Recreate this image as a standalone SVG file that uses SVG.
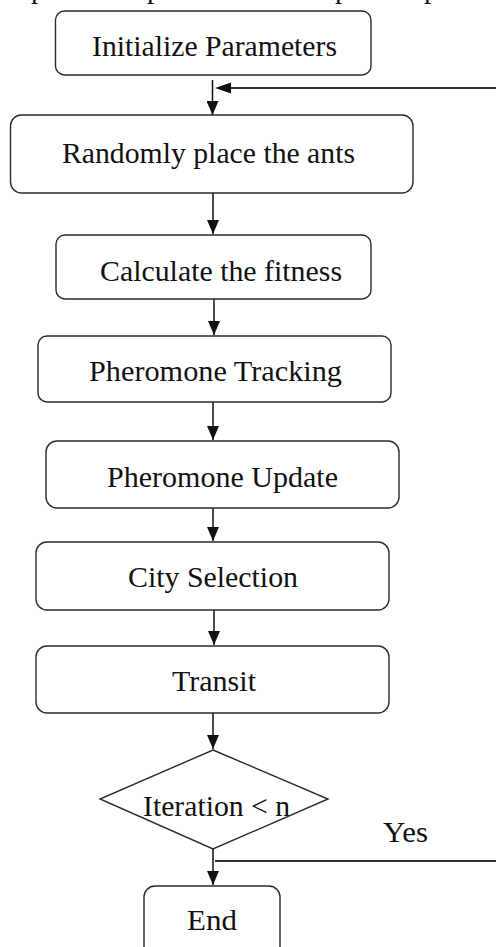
<svg xmlns="http://www.w3.org/2000/svg" width="496" height="947" viewBox="0 0 496 947">
<style>
.box{fill:#fff;stroke:#2a2a2a;stroke-width:1.4}
.lbl{font-family:"Liberation Serif","Times New Roman",serif;font-size:28.5px;fill:#111;text-anchor:middle}
.frag{font-family:"Liberation Serif","Times New Roman",serif;font-size:29px;fill:#111}
.conn{fill:none;stroke:#111;stroke-width:1.5}
.loop{fill:none;stroke:#333;stroke-width:2}
</style>
<defs>
<marker id="ah" markerUnits="userSpaceOnUse" markerWidth="14" markerHeight="12" refX="14" refY="6" orient="auto" viewBox="0 0 14 12">
<path d="M0,0 L14,6 L0,12 Z" fill="#111"/>
</marker>
</defs>
<text class="frag" y="-2.5"><tspan x="31">p</tspan><tspan x="147">p</tspan><tspan x="335">p</tspan><tspan x="424">p</tspan></text>
<g id="connectors">
<line class="conn" x1="212.5" y1="80" x2="212.5" y2="115" marker-end="url(#ah)"/>
<line class="loop" x1="496" y1="88" x2="230" y2="88"/>
<path d="M215,88 L231,82.5 L231,93.5 Z" fill="#111"/>
<line class="conn" x1="213" y1="193" x2="213" y2="234" marker-end="url(#ah)"/>
<line class="conn" x1="214" y1="299" x2="214" y2="335" marker-end="url(#ah)"/>
<line class="conn" x1="213" y1="402" x2="213" y2="440" marker-end="url(#ah)"/>
<line class="conn" x1="213" y1="508" x2="213" y2="541" marker-end="url(#ah)"/>
<line class="conn" x1="214" y1="610" x2="214" y2="645" marker-end="url(#ah)"/>
<line class="conn" x1="213" y1="713" x2="213" y2="749" marker-end="url(#ah)"/>
<line class="conn" x1="213" y1="849" x2="213" y2="885" marker-end="url(#ah)"/>
<line class="loop" x1="215" y1="861" x2="496" y2="861"/>
<text class="lbl" x="405.5" y="842" textLength="45" lengthAdjust="spacingAndGlyphs">Yes</text>
</g>
<g id="n1"><rect class="box" x="55.5" y="11" width="315.5" height="64" rx="9"/><text class="lbl" x="214.5" y="56" textLength="245" lengthAdjust="spacingAndGlyphs">Initialize Parameters</text></g>
<g id="n2"><rect class="box" x="10.5" y="115" width="402.5" height="78" rx="11"/><text class="lbl" x="208.5" y="163" textLength="293" lengthAdjust="spacingAndGlyphs">Randomly place the ants</text></g>
<g id="n3"><rect class="box" x="56" y="235" width="315" height="64" rx="9"/><text class="lbl" x="221" y="281" textLength="242" lengthAdjust="spacingAndGlyphs">Calculate the fitness</text></g>
<g id="n4"><rect class="box" x="38" y="336" width="353" height="66" rx="9"/><text class="lbl" x="215.5" y="381" textLength="253" lengthAdjust="spacingAndGlyphs">Pheromone Tracking</text></g>
<g id="n5"><rect class="box" x="46" y="441" width="353" height="67" rx="11"/><text class="lbl" x="222.5" y="487" textLength="231" lengthAdjust="spacingAndGlyphs">Pheromone Update</text></g>
<g id="n6"><rect class="box" x="36" y="542" width="353" height="68" rx="11"/><text class="lbl" x="213" y="587" textLength="170" lengthAdjust="spacingAndGlyphs">City Selection</text></g>
<g id="n7"><rect class="box" x="36" y="646" width="353" height="67" rx="11"/><text class="lbl" x="214" y="691" textLength="84" lengthAdjust="spacingAndGlyphs">Transit</text></g>
<g id="n8"><polygon class="box" points="213,750 328,799 213,849 100,799"/><text class="lbl" x="216.5" y="816" textLength="147" lengthAdjust="spacingAndGlyphs">Iteration &lt; n</text></g>
<g id="n9"><rect class="box" x="144" y="886" width="136" height="80" rx="11"/><text class="lbl" x="212" y="930" textLength="50" lengthAdjust="spacingAndGlyphs">End</text></g>
</svg>
